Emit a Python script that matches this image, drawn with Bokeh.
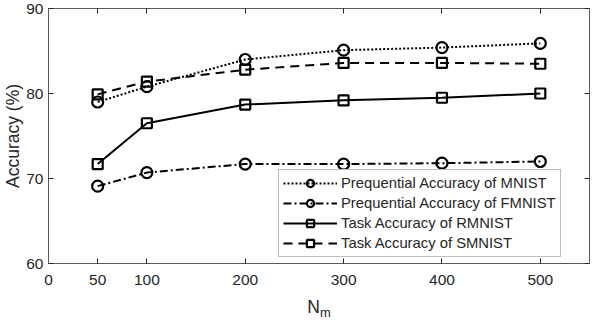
from bokeh.plotting import figure
from bokeh.layouts import column
from bokeh.models import LinearAxis, FixedTicker, Range1d, Label, Legend, LegendItem
from bokeh.embed import file_html
from bokeh.resources import INLINE

x_vals = [50, 100, 200, 300, 400, 500]
mnist = [79.0, 80.8, 84.0, 85.1, 85.4, 85.9]
fmnist = [69.1, 70.7, 71.7, 71.7, 71.8, 72.0]
rmnist = [71.7, 76.5, 78.7, 79.2, 79.5, 80.0]
smnist = [79.9, 81.4, 82.8, 83.6, 83.6, 83.5]
x_ticks = [0, 50, 100, 200, 300, 400, 500]
y_ticks = [60, 70, 80, 90]
labels = ["Prequential Accuracy of MNIST", "Prequential Accuracy of FMNIST",
          "Task Accuracy of RMNIST", "Task Accuracy of SMNIST"]

FONT = "Liberation Sans"
AX = "#5a5a5a"
TXT = "#262626"

p = figure(width=594, height=294, output_backend="svg", toolbar_location=None,
           x_range=Range1d(0, 550), y_range=Range1d(60, 90),
           min_border_left=44, min_border_right=5, min_border_top=8, min_border_bottom=31,
           x_axis_location=None, y_axis_location=None)
p.xgrid.visible = False
p.ygrid.visible = False
p.outline_line_color = None

def style_axis(ax, show_labels):
    ax.axis_line_color = AX
    ax.axis_line_width = 1
    ax.major_tick_line_color = TXT
    ax.major_tick_in = 5
    ax.major_tick_out = 0
    ax.minor_tick_line_color = None
    ax.major_label_text_font = FONT
    ax.major_label_text_font_size = "15.5px"
    ax.major_label_text_color = TXT if show_labels else None
    ax.axis_label_text_font = FONT
    ax.axis_label_text_font_style = "normal"
    ax.axis_label_text_color = TXT

xb = LinearAxis(ticker=FixedTicker(ticks=x_ticks))
style_axis(xb, True)
xb.major_label_standoff = 11
p.add_layout(xb, "below")

yl = LinearAxis(ticker=FixedTicker(ticks=y_ticks), axis_label="Accuracy (%)")
style_axis(yl, True)
yl.major_label_standoff = 5
yl.axis_label_standoff = 0
yl.axis_label_text_font_size = "17.5px"
p.add_layout(yl, "left")

xt = LinearAxis(ticker=FixedTicker(ticks=x_ticks))
style_axis(xt, False)
xt.major_label_text_font_size = "0px"
xt.major_label_standoff = 0
p.add_layout(xt, "above")

yr = LinearAxis(ticker=FixedTicker(ticks=y_ticks))
style_axis(yr, False)
yr.major_label_text_font_size = "0px"
yr.major_label_standoff = 0
p.add_layout(yr, "right")

specs = [
    (mnist, "2 2", "circle"),
    (fmnist, "8 3 2 3", "circle"),
    (rmnist, "solid", "square"),
    (smnist, "9 6", "square"),
]
items = []
for (ys, dash, marker), lab in zip(specs, labels):
    r1 = p.line(x_vals, ys, line_color="black", line_width=2, line_dash=dash)
    r2 = p.scatter(x_vals, ys, marker=marker, size=11 if marker == "circle" else 10,
                   line_color="black", line_width=2.2, fill_color=None)
    items.append(LegendItem(label=lab, renderers=[r1, r2]))

leg = Legend(items=items, location=(230, 6), orientation="vertical")
leg.label_text_font = FONT
leg.label_text_font_size = "14.8px"
leg.label_text_color = TXT
leg.glyph_width = 54
leg.glyph_height = 18
leg.label_height = 18
leg.spacing = 2
leg.padding = 4
leg.margin = 0
leg.label_standoff = 4
leg.border_line_color = "#7a7a7a"
leg.border_line_width = 1
leg.background_fill_color = "white"
leg.background_fill_alpha = 1
p.add_layout(leg, "center")

# strip below the axes holding the x-axis title "N" with subscript "m";
# its frame is aligned with the main frame, so it shares the x range
p2 = figure(width=594, height=26, output_backend="svg", toolbar_location=None,
            x_range=Range1d(0, 550), y_range=Range1d(0, 26),
            min_border=0, x_axis_location=None, y_axis_location=None)
p2.xgrid.visible = False
p2.ygrid.visible = False
p2.outline_line_color = None
p2.add_layout(Label(x=263, y=14, text="N", text_font=FONT, text_font_size="17.5px",
                    text_color=TXT, text_baseline="alphabetic"))
p2.add_layout(Label(x=276, y=8, text="m", text_font=FONT, text_font_size="13px",
                    text_color=TXT, text_baseline="alphabetic"))

layout = column(p, p2, spacing=0)
open("out.html", "w").write(file_html(layout, INLINE))
